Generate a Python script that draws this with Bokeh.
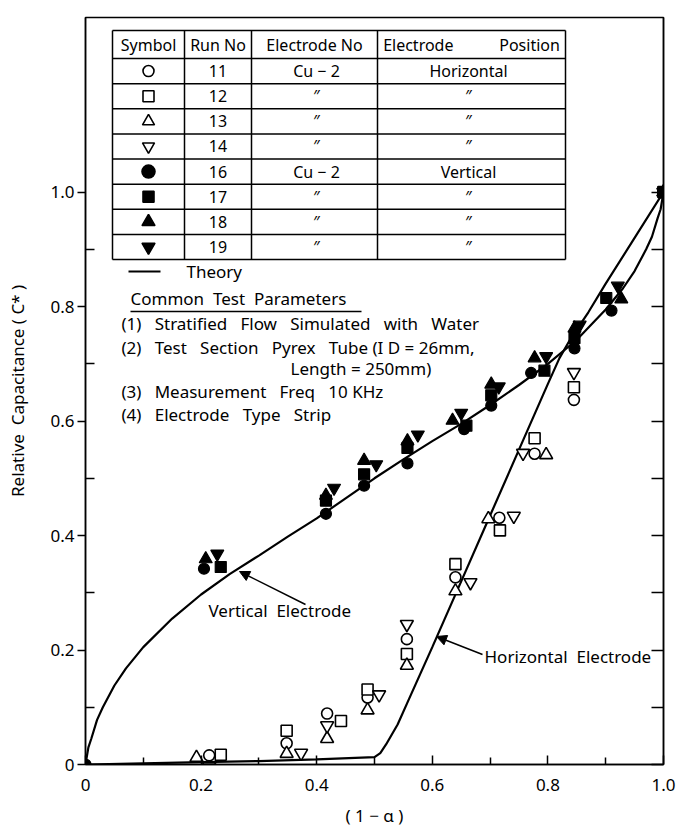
from bokeh.plotting import figure
from bokeh.models import FixedTicker, LinearAxis, Range1d, Arrow, NormalHead, Label
from bokeh.embed import file_html
from bokeh.resources import INLINE

# ---------------- data ----------------
vert_theory_x = [0.0, 0.005, 0.01, 0.02, 0.03, 0.05, 0.07, 0.10, 0.15, 0.20, 0.25, 0.30, 0.35,
                 0.40, 0.45, 0.50, 0.55, 0.60, 0.65, 0.70, 0.75, 0.80, 0.85, 0.90, 0.93, 0.95,
                 0.97, 0.98, 0.99, 0.995, 1.0]
vert_theory_y = [0.0, 0.030, 0.045, 0.078, 0.100, 0.138, 0.168, 0.205, 0.255, 0.297, 0.333, 0.365,
                 0.398, 0.430, 0.465, 0.500, 0.533, 0.565, 0.595, 0.628, 0.663, 0.700, 0.742, 0.795,
                 0.832, 0.862, 0.900, 0.922, 0.955, 0.970, 1.0]

horiz_theory_x = [0.0, 0.1, 0.2, 0.3, 0.4, 0.5, 0.51, 0.52, 0.54, 0.56, 0.58, 0.60, 0.65, 0.70,
                  0.75, 0.80, 0.82, 0.84, 0.87, 0.90, 0.95, 1.0]
horiz_theory_y = [0.0, 0.002, 0.004, 0.006, 0.009, 0.013, 0.020, 0.035, 0.070, 0.115, 0.160, 0.205,
                  0.320, 0.435, 0.550, 0.665, 0.710, 0.745, 0.790, 0.840, 0.920, 1.0]

# Horizontal electrode runs (open symbols)
run11_x = [0.214, 0.348, 0.418, 0.488, 0.556, 0.640, 0.716, 0.777, 0.845, 1.0]
run11_y = [0.016, 0.037, 0.089, 0.117, 0.219, 0.327, 0.431, 0.543, 0.637, 1.0]
run12_x = [0.234, 0.348, 0.442, 0.488, 0.556, 0.640, 0.717, 0.777, 0.845, 1.0]
run12_y = [0.017, 0.059, 0.076, 0.131, 0.193, 0.350, 0.409, 0.570, 0.659, 1.0]
run13_x = [0.192, 0.348, 0.418, 0.488, 0.556, 0.640, 0.697, 0.797, 1.0]
run13_y = [0.012, 0.019, 0.045, 0.095, 0.173, 0.303, 0.429, 0.541, 1.0]
run14_x = [0.214, 0.373, 0.418, 0.508, 0.556, 0.666, 0.741, 0.757, 0.845, 1.0]
run14_y = [-0.004, 0.020, 0.068, 0.122, 0.245, 0.318, 0.434, 0.544, 0.685, 1.0]

# Vertical electrode runs (filled symbols)
run16_x = [0.0, 0.205, 0.416, 0.482, 0.557, 0.655, 0.702, 0.771, 0.846, 0.910, 1.0]
run16_y = [0.0, 0.342, 0.438, 0.487, 0.526, 0.586, 0.627, 0.684, 0.727, 0.793, 1.0]
run17_x = [0.234, 0.416, 0.482, 0.557, 0.659, 0.702, 0.794, 0.846, 0.901, 1.0]
run17_y = [0.345, 0.461, 0.507, 0.553, 0.592, 0.645, 0.688, 0.745, 0.815, 1.0]
run18_x = [0.208, 0.416, 0.482, 0.557, 0.635, 0.702, 0.777, 0.846, 0.927, 1.0]
run18_y = [0.359, 0.470, 0.531, 0.565, 0.601, 0.664, 0.710, 0.762, 0.813, 1.0]
run19_x = [0.228, 0.430, 0.503, 0.575, 0.650, 0.715, 0.797, 0.855, 0.921, 1.0]
run19_y = [0.368, 0.483, 0.524, 0.576, 0.614, 0.660, 0.713, 0.768, 0.836, 1.0]

major_ticks = [0.0, 0.2, 0.4, 0.6, 0.8, 1.0]
minor_ticks = [0.1, 0.3, 0.5, 0.7, 0.9]
tick_labels = {0: "0", 0.2: "0.2", 0.4: "0.4", 0.6: "0.6", 0.8: "0.8", 1: "1.0"}

NB = "\u00a0"
table_header = ["Symbol", "Run No", "Electrode No", "Electrode" + NB * 11 + "Position"]
table_runs = ["11", "12", "13", "14", "16", "17", "18", "19"]
table_electrode = ["Cu \u2212 2", "\u2033", "\u2033", "\u2033", "Cu \u2212 2", "\u2033", "\u2033", "\u2033"]
table_position = ["Horizontal", "\u2033", "\u2033", "\u2033", "Vertical", "\u2033", "\u2033", "\u2033"]
table_markers = ["circle", "square", "triangle", "inverted_triangle"] * 2
table_fill = ["white"] * 4 + ["black"] * 4


def sp(s):
    return s.replace("  ", NB * 3)


params = [sp("(1)  Stratified  Flow  Simulated  with  Water"),
          sp("(2)  Test  Section  Pyrex  Tube (I D = 26mm,"),
          sp("Length = 250mm)"),
          sp("(3)  Measurement  Freq  10 KHz"),
          sp("(4)  Electrode  Type  Strip")]

# ---------------- layout (pixels) ----------------
W, H = 677, 827
LEFT, RIGHT, TOP, BOTTOM = 85, 663, 17, 764
Y_MAX = 1.305
FONT = "Noto Sans"


def dx(px):
    return (px - LEFT) / (RIGHT - LEFT)


def dy(py):
    return (BOTTOM - py) / (BOTTOM - TOP) * Y_MAX


p = figure(frame_width=RIGHT - LEFT, frame_height=BOTTOM - TOP,
           min_border_left=LEFT, min_border_right=W - RIGHT,
           min_border_top=TOP, min_border_bottom=H - BOTTOM,
           x_range=Range1d(0, 1.0), y_range=Range1d(0, Y_MAX),
           output_backend="svg", toolbar_location=None)
p.grid.visible = False
p.outline_line_color = "black"
p.outline_line_width = 1.5
p.background_fill_color = "white"
p.border_fill_color = "white"

for ax in (p.xaxis[0], p.yaxis[0]):
    ax.ticker = FixedTicker(ticks=major_ticks, minor_ticks=minor_ticks)
    ax.major_label_overrides = tick_labels
    ax.axis_line_width = 1.5
    ax.axis_line_color = "black"
    ax.major_tick_line_width = 1.5
    ax.minor_tick_line_width = 1.5
    ax.major_tick_line_color = "black"
    ax.minor_tick_line_color = "black"
    ax.major_label_text_font = FONT
    ax.major_label_text_font_size = "17px"
    ax.major_label_text_color = "black"
    ax.axis_label_text_font = FONT
    ax.axis_label_text_font_style = "normal"
    ax.axis_label_text_font_size = "17px"
    ax.axis_label_text_color = "black"

p.xaxis.major_tick_in = 9
p.xaxis.major_tick_out = 0
p.xaxis.minor_tick_in = 7
p.xaxis.minor_tick_out = 0
p.xaxis.major_label_standoff = 14
p.xaxis.axis_label = "( 1 \u2212 \u03b1 )"
p.xaxis.axis_label_standoff = 10

p.yaxis.major_tick_in = 0
p.yaxis.major_tick_out = 8
p.yaxis.minor_tick_in = 9
p.yaxis.minor_tick_out = 0
p.yaxis.major_label_standoff = 3
p.yaxis.axis_label = "Relative" + NB * 2 + "Capacitance" + NB + "( C* )"
p.yaxis.axis_label_standoff = 18

right_axis = LinearAxis(ticker=FixedTicker(ticks=major_ticks + minor_ticks),
                        major_tick_in=12, major_tick_out=0, major_tick_line_width=1.5,
                        minor_tick_line_color=None, axis_line_width=1.5,
                        major_label_text_font_size="0px", major_label_text_color=None,
                        major_label_standoff=0)
p.add_layout(right_axis, "right")

# ---------------- theory curves ----------------
p.line(vert_theory_x, vert_theory_y, line_color="black", line_width=2.2)
p.line(horiz_theory_x, horiz_theory_y, line_color="black", line_width=2.2)

# ---------------- data points ----------------
MS = 11
open_runs = [(run11_x, run11_y, "circle"), (run12_x, run12_y, "square"),
             (run13_x, run13_y, "triangle"), (run14_x, run14_y, "inverted_triangle")]
filled_runs = [(run16_x, run16_y, "circle"), (run17_x, run17_y, "square"),
               (run18_x, run18_y, "triangle"), (run19_x, run19_y, "inverted_triangle")]
for xs, ys, mk in open_runs:
    p.scatter(xs, ys, marker=mk, size=MS + (2 if "triangle" in mk else 0),
              fill_color="white", line_color="black", line_width=1.6)
for xs, ys, mk in filled_runs:
    p.scatter(xs, ys, marker=mk, size=MS + (2 if "triangle" in mk else 0),
              fill_color="black", line_color="black", line_width=1.2)


def label(px, py, text, align="left", size="17px"):
    p.add_layout(Label(x=dx(px), y=dy(py), text=text, text_font=FONT, text_font_size=size,
                       text_align=align, text_baseline="middle", text_color="black"))


# ---------------- table ----------------
T_L, T_R, T_T, T_B = 112, 565, 30, 259
col_div = [184, 251, 377]
head_b = 58
row_h = (T_B - head_b) / 8.0
row_lines = [T_T, head_b] + [head_b + row_h * (i + 1) for i in range(8)]
p.segment(x0=[dx(T_L)] * len(row_lines), x1=[dx(T_R)] * len(row_lines),
          y0=[dy(v) for v in row_lines], y1=[dy(v) for v in row_lines],
          line_color="black", line_width=1.5)
vlines = [T_L] + col_div + [T_R]
p.segment(x0=[dx(v) for v in vlines], x1=[dx(v) for v in vlines],
          y0=[dy(T_T)] * len(vlines), y1=[dy(T_B)] * len(vlines),
          line_color="black", line_width=1.5)

TFS = "16px"
head_c = (T_T + head_b) / 2
label(148, head_c, table_header[0], "center", TFS)
label(217.5, head_c, table_header[1], "center", TFS)
label(314, head_c, table_header[2], "center", TFS)
label(471, head_c, table_header[3], "center", TFS)

row_c = [head_b + row_h * (i + 0.5) for i in range(8)]
for i in range(8):
    label(217.5, row_c[i], table_runs[i], "center", TFS)
    label(316, row_c[i], table_electrode[i], "center", TFS)
    label(468, row_c[i], table_position[i], "center", TFS)
p.scatter([dx(148)] * 8, [dy(c) for c in row_c], marker=table_markers,
          size=[11, 11, 12, 12, 13, 11, 13, 13], fill_color=table_fill,
          line_color="black", line_width=1.6)

# ---------------- theory legend & parameters ----------------
p.line([dx(128), dx(160)], [dy(271), dy(271)], line_color="black", line_width=2)
label(186, 271, "Theory")
label(130, 298, "Common" + NB * 2 + "Test" + NB * 2 + "Parameters")
p.line([dx(130), dx(361)], [dy(311), dy(311)], line_color="black", line_width=1.5)
label(121, 323, params[0])
label(121, 347, params[1])
label(290, 368, params[2])
label(121, 391, params[3])
label(121, 414, params[4])

# ---------------- curve labels ----------------
label(208, 610, "Vertical" + NB * 2 + "Electrode")
p.add_layout(Arrow(end=NormalHead(size=10, fill_color="black", line_color="black"),
                   x_start=dx(305), y_start=dy(604), x_end=dx(239), y_end=dy(571),
                   line_color="black", line_width=1.5))
label(484, 656, "Horizontal" + NB * 2 + "Electrode")
p.add_layout(Arrow(end=NormalHead(size=10, fill_color="black", line_color="black"),
                   x_start=dx(482), y_start=dy(654), x_end=dx(436), y_end=dy(636),
                   line_color="black", line_width=1.5))

open("out.html", "w").write(file_html(p, INLINE))
